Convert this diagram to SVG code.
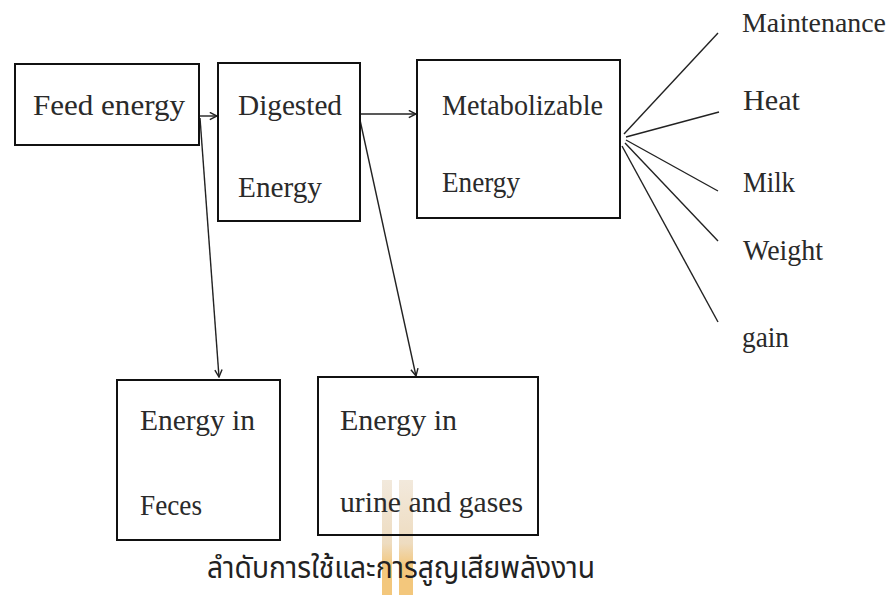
<svg xmlns="http://www.w3.org/2000/svg" width="895" height="595" viewBox="0 0 895 595">
<style>
  .box { fill: none; stroke: #111; stroke-width: 2; }
  .t { font-family: "Liberation Serif", "Times New Roman", serif; font-size: 30px; fill: #2a2a2a; }
  .sm { font-size: 28px; }
  .th { font-family: "Noto Sans Thai", "Noto Sans Thai Looped", "Noto Sans", "DejaVu Sans", sans-serif; font-size: 31px; fill: #222; }
  .ln { fill: none; stroke: #222; stroke-width: 1.4; }
</style>
<defs>
  <marker id="arr" viewBox="0 0 10 10" refX="9" refY="5" markerWidth="9" markerHeight="9" markerUnits="userSpaceOnUse" orient="auto">
    <path d="M1,1 L9,5 L1,9" fill="none" stroke="#222" stroke-width="1.6"/>
  </marker>
  <linearGradient id="wm" x1="0" y1="0" x2="0" y2="1">
    <stop offset="0" stop-color="#f2e9dc"/>
    <stop offset="0.55" stop-color="#eedcc0"/>
    <stop offset="0.75" stop-color="#f3c77c"/>
    <stop offset="1" stop-color="#f3c77c"/>
  </linearGradient>
</defs>
<rect width="895" height="595" fill="#ffffff"/>
<g id="watermark">
  <rect x="382" y="480" width="10" height="115" fill="url(#wm)"/>
  <rect x="399" y="480" width="14" height="115" fill="url(#wm)"/>
</g>
<g id="connectors">
  <line class="ln" x1="199" y1="116" x2="217" y2="116" marker-end="url(#arr)"/>
  <line class="ln" x1="360" y1="114" x2="416" y2="114" marker-end="url(#arr)"/>
  <line class="ln" x1="200" y1="118" x2="219" y2="377" marker-end="url(#arr)"/>
  <line class="ln" x1="360" y1="120" x2="416" y2="376" marker-end="url(#arr)"/>
  <line class="ln" x1="624" y1="134" x2="718" y2="33"/>
  <line class="ln" x1="626" y1="137" x2="719" y2="112"/>
  <line class="ln" x1="626" y1="140" x2="718" y2="191"/>
  <line class="ln" x1="625" y1="143" x2="718" y2="241"/>
  <line class="ln" x1="622" y1="146" x2="718" y2="322"/>
</g>
<g id="feed">
  <rect class="box" x="15" y="64" width="184" height="81"/>
  <text class="t" x="33" y="115" textLength="152" lengthAdjust="spacingAndGlyphs">Feed energy</text>
</g>
<g id="digested">
  <rect class="box" x="218" y="63" width="142" height="158"/>
  <text class="t" x="238" y="115" textLength="104" lengthAdjust="spacingAndGlyphs">Digested</text>
  <text class="t" x="238" y="197" textLength="84" lengthAdjust="spacingAndGlyphs">Energy</text>
</g>
<g id="metabolizable">
  <rect class="box" x="417" y="60" width="203" height="158"/>
  <text class="t" x="442" y="115" textLength="161" lengthAdjust="spacingAndGlyphs">Metabolizable</text>
  <text class="t" x="442" y="192" textLength="78" lengthAdjust="spacingAndGlyphs">Energy</text>
</g>
<g id="outputs">
  <text class="t sm" x="742" y="32" textLength="144" lengthAdjust="spacingAndGlyphs">Maintenance</text>
  <text class="t" x="743" y="110" textLength="57" lengthAdjust="spacingAndGlyphs">Heat</text>
  <text class="t" x="743" y="192" textLength="52" lengthAdjust="spacingAndGlyphs">Milk</text>
  <text class="t" x="743" y="260" textLength="80" lengthAdjust="spacingAndGlyphs">Weight</text>
  <text class="t" x="742" y="347" textLength="47" lengthAdjust="spacingAndGlyphs">gain</text>
</g>
<g id="feces">
  <rect class="box" x="117" y="380" width="163" height="160"/>
  <text class="t" x="140" y="430" textLength="115" lengthAdjust="spacingAndGlyphs">Energy in</text>
  <text class="t" x="140" y="515" textLength="62" lengthAdjust="spacingAndGlyphs">Feces</text>
</g>
<g id="urine">
  <rect class="box" x="318" y="377" width="220" height="158"/>
  <text class="t" x="340" y="430" textLength="117" lengthAdjust="spacingAndGlyphs">Energy in</text>
  <text class="t" x="340" y="512" textLength="183" lengthAdjust="spacingAndGlyphs">urine and gases</text>
</g>
<g id="caption">
  <text class="th" x="207" y="578" textLength="388" lengthAdjust="spacingAndGlyphs">ลำดับการใช้และการสูญเสียพลังงาน</text>
</g>
</svg>
